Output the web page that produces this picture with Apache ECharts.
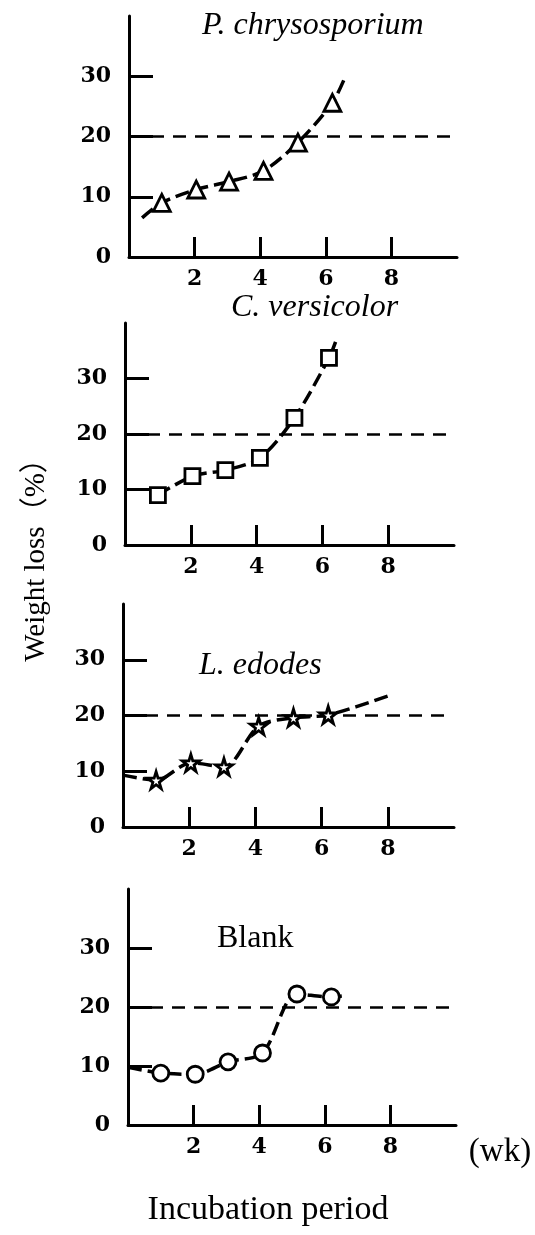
<!DOCTYPE html>
<html>
<head>
<meta charset="utf-8">
<script src="https://cdn.jsdelivr.net/npm/echarts@6/dist/echarts.min.js"></script>
<style>
  html, body { margin: 0; padding: 0; background: #fff; }
  #chart { width: 535px; height: 1235px; }
</style>
</head>
<body>
<div id="chart"></div>
<script>
// weeks where the points sit
const weeks = [1, 2.05, 3.05, 4.1, 5.15, 6.2];

// weight loss (%) per fungus
const pcLoss = [9, 11.2, 12.5, 14.3, 19, 25.6];
const cvLoss = [9, 12.4, 13.5, 15.7, 22.9, 33.7];
const leLoss = [8.4, 11.5, 10.8, 18.1, 19.6, 20.1];
const blankLoss = [8.8, 8.6, 10.7, 12.2, 22.2, 21.7];

// hand drawn trend line: where it starts and ends beyond the points
const pcTrendEnds = [[0.4, 6.5], [6.6, 30]];
const cvTrendEnds = [[1, 9], [6.4, 36.6]];
const leTrendEnds = [[0, 9.3], [8.1, 23.7]];
const blankTrendEnds = [[0, 9.8], [6.7, 22]];

const yTicks = [10, 20, 30];
const yLabels = [0, 10, 20, 30];
const xTicks = [2, 4, 6, 8];
const refLine = 20;

const starPath = 'path://M50,0 L61,35 L98,35 L68,57 L79,91 L50,70 L21,91 L32,57 L2,35 L39,35 Z';

const panels = [
    { name: 'P. chrysosporium', italic: true, loss: pcLoss, ends: pcTrendEnds, symbol: 'triangle', size: 17,
      grid: { left: 129, top: 16, width: 328, height: 241 }, title: [202, 10] },
    { name: 'C. versicolor', italic: true, loss: cvLoss, ends: cvTrendEnds, symbol: 'rect', size: 15,
      grid: { left: 125, top: 323, width: 329, height: 222 }, title: [231, 292] },
    { name: 'L. edodes', italic: true, loss: leLoss, ends: leTrendEnds, symbol: starPath, size: 17,
      grid: { left: 123, top: 604, width: 331, height: 223 }, title: [199, 650] },
    { name: 'Blank', italic: false, loss: blankLoss, ends: blankTrendEnds, symbol: 'circle', size: 16,
      grid: { left: 128, top: 889, width: 328, height: 236 }, title: [217, 923] }
];

const chart = echarts.init(document.getElementById('chart'));

const grid = [], xAxis = [], yAxis = [], series = [], title = [];

panels.forEach((p, i) => {
    grid.push(p.grid);

    xAxis.push({
        type: 'value', gridIndex: i, min: 0, max: 10,
        splitLine: { show: false },
        axisLine: { lineStyle: { color: '#000', width: 3 } },
        axisTick: { inside: true, length: 20, customValues: xTicks, lineStyle: { color: '#000', width: 3 } },
        axisLabel: { customValues: xTicks, margin: 11, color: '#000', fontFamily: 'DejaVu Serif', fontWeight: 'bold', fontSize: 22 }
    });

    yAxis.push({
        type: 'value', gridIndex: i, min: 0, max: 40, interval: 10,
        splitLine: { show: false },
        axisLine: { show: true, lineStyle: { color: '#000', width: 3 } },
        axisTick: { inside: true, length: 24, customValues: yTicks, lineStyle: { color: '#000', width: 3 } },
        axisLabel: { customValues: yLabels, margin: 18, color: '#000', fontFamily: 'DejaVu Serif', fontWeight: 'bold', fontSize: 22 }
    });

    const pts = weeks.map((w, k) => [w, p.loss[k]]);
    const trend = [p.ends[0]].concat(pts, [p.ends[1]]);

    series.push({
        type: 'line', xAxisIndex: i, yAxisIndex: i,
        data: trend, smooth: 0.3, symbol: 'none', silent: true,
        lineStyle: { color: '#000', width: 3.5, type: [14, 6] },
        markLine: {
            silent: true, symbol: 'none', label: { show: false },
            lineStyle: { color: '#000', width: 2.5, type: [13, 9] },
            data: [[{ coord: [0, refLine] }, { coord: [9.8, refLine] }]]
        }
    });

    series.push({
        type: 'scatter', xAxisIndex: i, yAxisIndex: i,
        data: pts, symbol: p.symbol, symbolSize: p.size, z: 5,
        itemStyle: { color: '#fff', opacity: 1, borderColor: '#000', borderWidth: 2.8 }
    });

    title.push({
        text: p.name, left: p.title[0], top: p.title[1], padding: 0,
        textStyle: { fontFamily: 'Liberation Serif', fontStyle: p.italic ? 'italic' : 'normal',
                     fontWeight: 'normal', fontSize: 32, color: '#000' }
    });
});

chart.setOption({
    backgroundColor: '#fff',
    animation: false,
    title: title,
    grid: grid,
    xAxis: xAxis,
    yAxis: yAxis,
    series: series,
    graphic: [
        {
            type: 'text', x: 36, y: 553, rotation: Math.PI / 2,
            style: { text: 'Weight loss（%）', fill: '#000', font: '29px "Liberation Serif", "Noto Sans CJK SC"',
                     align: 'center', verticalAlign: 'middle' }
        },
        {
            type: 'text', x: 500, y: 1152,
            style: { text: '(wk)', fill: '#000', font: '33px "Liberation Serif"', align: 'center', verticalAlign: 'middle' }
        },
        {
            type: 'text', x: 268, y: 1210,
            style: { text: 'Incubation period', fill: '#000', font: '34px "Liberation Serif"', align: 'center', verticalAlign: 'middle' }
        }
    ]
});
</script>
</body>
</html>
